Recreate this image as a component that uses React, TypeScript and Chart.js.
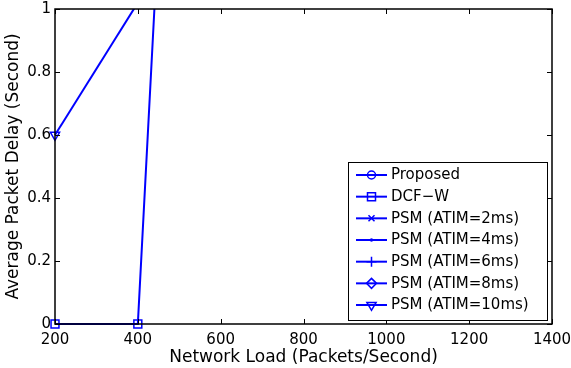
import React, { useEffect, useRef } from 'react';
import { Chart, registerables } from 'chart.js';

Chart.register(...registerables);

// ---- data ----
const loads = [200, 400, 600, 800, 1000, 1200, 1400];
const proposedDelay: number[] = [];
const dcfwDelay = [0, 0, 5];
const psm2Delay: number[] = [];
const psm4Delay: number[] = [];
const psm6Delay: number[] = [];
const psm8Delay: number[] = [];
const psm10Delay = [0.6, 1.02];
const seriesNames = [
  'Proposed',
  'DCF\u2212W',
  'PSM (ATIM=2ms)',
  'PSM (ATIM=4ms)',
  'PSM (ATIM=6ms)',
  'PSM (ATIM=8ms)',
  'PSM (ATIM=10ms)',
];
const xTickValues = [200, 400, 600, 800, 1000, 1200, 1400];
const xTickLabels = ['200', '400', '600', '800', '1000', '1200', '1400'];
const yTickValues = [0, 0.2, 0.4, 0.6, 0.8, 1];
const yTickLabels = ['0', '0.2', '0.4', '0.6', '0.8', '1'];

const BLUE = '#0000ff';
const FONT = 'DejaVu Sans';

type Marker = 'circle' | 'square' | 'x' | 'dot' | 'plus' | 'diamond' | 'tridown';
const markers: Marker[] = ['circle', 'square', 'x', 'dot', 'plus', 'diamond', 'tridown'];
const seriesValues = [proposedDelay, dcfwDelay, psm2Delay, psm4Delay, psm6Delay, psm8Delay, psm10Delay];

function chartPointStyle(m: Marker): any {
  switch (m) {
    case 'circle': return { style: 'circle', radius: 4, rot: 0 };
    case 'square': return { style: 'rect', radius: 5.6, rot: 0 };
    case 'x': return { style: 'crossRot', radius: 4, rot: 0 };
    case 'dot': return { style: 'circle', radius: 1, rot: 0 };
    case 'plus': return { style: 'cross', radius: 5, rot: 0 };
    case 'diamond': return { style: 'rectRot', radius: 5, rot: 0 };
    case 'tridown': return { style: 'triangle', radius: 5.3, rot: 180 };
  }
}

function drawMarker(ctx: CanvasRenderingContext2D, m: Marker, x: number, y: number) {
  ctx.beginPath();
  switch (m) {
    case 'circle':
      ctx.arc(x, y, 4, 0, Math.PI * 2);
      break;
    case 'square':
      ctx.rect(x - 4, y - 4, 8, 8);
      break;
    case 'x':
      ctx.moveTo(x - 3, y - 3); ctx.lineTo(x + 3, y + 3);
      ctx.moveTo(x + 3, y - 3); ctx.lineTo(x - 3, y + 3);
      break;
    case 'dot':
      ctx.arc(x, y, 1, 0, Math.PI * 2);
      break;
    case 'plus':
      ctx.moveTo(x - 5, y); ctx.lineTo(x + 5, y);
      ctx.moveTo(x, y - 5); ctx.lineTo(x, y + 5);
      break;
    case 'diamond':
      ctx.moveTo(x, y - 5); ctx.lineTo(x + 5, y); ctx.lineTo(x, y + 5); ctx.lineTo(x - 5, y); ctx.closePath();
      break;
    case 'tridown':
      ctx.moveTo(x - 4.6, y - 2.6); ctx.lineTo(x + 4.6, y - 2.6); ctx.lineTo(x, y + 5.3); ctx.closePath();
      break;
  }
  ctx.stroke();
}

const frameAndLegend = {
  id: 'frameAndLegend',
  afterDraw(chart: any) {
    const ctx: CanvasRenderingContext2D = chart.ctx;
    const { left, right, top, bottom } = chart.chartArea;
    const xs = chart.scales.x;
    const ys = chart.scales.y;
    ctx.save();
    ctx.strokeStyle = '#000';
    ctx.lineWidth = 1.5;
    ctx.beginPath();
    ctx.rect(left, top, right - left, bottom - top);
    ctx.stroke();
    ctx.lineWidth = 1;
    const tl = 5;
    ctx.beginPath();
    xTickValues.forEach((v) => {
      const px = Math.round(xs.getPixelForValue(v)) + 0.5;
      ctx.moveTo(px, bottom); ctx.lineTo(px, bottom - tl);
      ctx.moveTo(px, top); ctx.lineTo(px, top + tl);
    });
    yTickValues.forEach((v) => {
      const py = Math.round(ys.getPixelForValue(v)) + 0.5;
      ctx.moveTo(left, py); ctx.lineTo(left + tl, py);
      ctx.moveTo(right, py); ctx.lineTo(right - tl, py);
    });
    ctx.stroke();

    // legend
    const bx = 348.5, by = 162.5, bw = 199, bh = 158;
    ctx.fillStyle = '#fff';
    ctx.fillRect(bx, by, bw, bh);
    ctx.strokeStyle = '#000';
    ctx.lineWidth = 1;
    ctx.strokeRect(bx, by, bw, bh);
    ctx.font = `15px "${FONT}"`;
    ctx.textBaseline = 'middle';
    ctx.textAlign = 'left';
    seriesNames.forEach((name, i) => {
      const y = 175 + i * 21.67;
      ctx.strokeStyle = BLUE;
      ctx.lineWidth = 2;
      ctx.beginPath();
      ctx.moveTo(356, y); ctx.lineTo(387, y);
      ctx.stroke();
      ctx.lineWidth = 1.5;
      drawMarker(ctx, markers[i], 371.5, y);
      ctx.fillStyle = '#000';
      ctx.fillText(name, 391, y + 0.5);
    });
    ctx.restore();
  },
};

function zeroPad(s: any) {
  s.paddingLeft = 0;
  s.paddingRight = 0;
  s.paddingTop = 0;
  s.paddingBottom = 0;
}

export default function App() {
  const ref = useRef<HTMLCanvasElement | null>(null);
  useEffect(() => {
    if (!ref.current) return;
    const datasets = seriesValues.map((vals, i) => {
      const ps = chartPointStyle(markers[i]);
      return {
        label: seriesNames[i],
        data: vals.map((v, j) => ({ x: loads[j], y: v })),
        borderColor: BLUE,
        backgroundColor: 'transparent',
        borderWidth: 2,
        pointStyle: ps.style,
        pointRadius: ps.radius,
        pointRotation: ps.rot,
        pointBorderColor: BLUE,
        pointBackgroundColor: 'transparent',
        pointBorderWidth: 1.5,
        tension: 0,
        clip: { left: 10, right: 10, top: 0, bottom: 10 },
      };
    });
    const chart = new Chart(ref.current, {
      type: 'line',
      data: { datasets },
      options: {
        animation: false,
        responsive: false,
        layout: { padding: { top: 9, right: 19, left: 0, bottom: 0 } },
        plugins: { legend: { display: false }, tooltip: { enabled: false } },
        scales: {
          x: {
            type: 'linear',
            min: 200,
            max: 1400,
            afterFit: (s: any) => { s.height = 44; zeroPad(s); },
            afterBuildTicks: (s: any) => { s.ticks = xTickValues.map((v) => ({ value: v })); },
            grid: { display: false, drawTicks: false },
            border: { display: false },
            ticks: {
              color: '#000',
              font: { family: FONT, size: 15 },
              padding: 7,
              maxRotation: 0,
              autoSkip: false,
              callback: (_v: any, i: number) => xTickLabels[i],
            },
            title: {
              display: true,
              text: 'Network Load (Packets/Second)',
              color: '#000',
              font: { family: FONT, size: 17 },
              padding: { top: 0, bottom: 0 },
            },
          },
          y: {
            type: 'linear',
            min: 0,
            max: 1,
            afterFit: (s: any) => { s.width = 55; zeroPad(s); },
            afterBuildTicks: (s: any) => { s.ticks = yTickValues.map((v) => ({ value: v })); },
            grid: { display: false, drawTicks: false },
            border: { display: false },
            ticks: {
              color: '#000',
              font: { family: FONT, size: 15 },
              padding: 4,
              autoSkip: false,
              callback: (_v: any, i: number) => yTickLabels[i],
            },
            title: {
              display: true,
              text: 'Average Packet Delay (Second)',
              color: '#000',
              font: { family: FONT, size: 17 },
              padding: { top: 3, bottom: 0 },
            },
          },
        },
      },
      plugins: [frameAndLegend],
    } as any);
    return () => chart.destroy();
  }, []);
  return (
    <div style={{ position: 'absolute', left: 0, top: 0, width: 571, height: 368, background: '#fff' }}>
      <canvas ref={ref} width={571} height={368} />
    </div>
  );
}
